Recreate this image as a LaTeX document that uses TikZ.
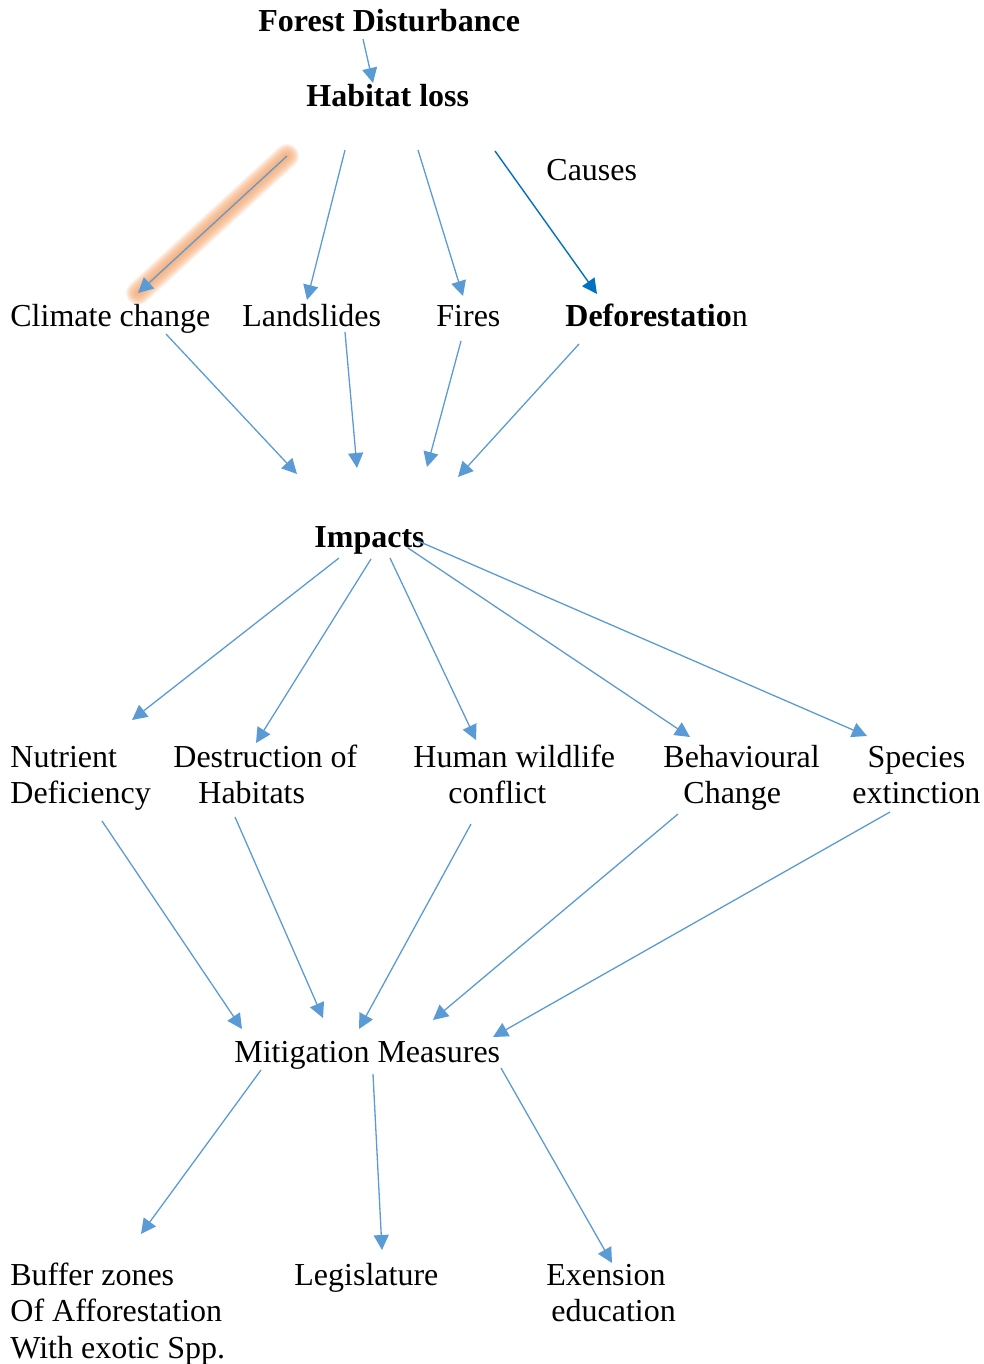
\documentclass[tikz,border=0pt]{standalone}
\usepackage{fontspec}
\setmainfont{Liberation Serif}
\usetikzlibrary{arrows.meta}

\definecolor{linkblue}{HTML}{5B9BD5}
\definecolor{causeblue}{HTML}{0070C0}
\definecolor{glowor}{HTML}{F4A66E}

\begin{document}
\begin{tikzpicture}[x=0.5pt,y=-0.5pt,>={Triangle[length=7.5pt,width=7.5pt]},
  every node/.style={inner sep=0pt,anchor=base west,font=\fontsize{16}{18.25}\selectfont},
  head/.style={font=\fontsize{16}{18.25}\selectfont\bfseries},
  link/.style={->,draw=linkblue,line width=0.65pt},
  darklink/.style={->,draw=causeblue,line width=0.7pt},
  glowline/.style={draw=glowor,line cap=round,opacity=.14}]
  \useasboundingbox (0,0) rectangle (984,1364);

  % Top
  \node[head] (fd) at (258,32) {Forest Disturbance};
  \node[head] (hl) at (306,107) {Habitat loss};
  \node (cs) at (546,181) {Causes};

  % Causes (multi-line nodes sit on their last baseline)
  \node (cc) at (10,326) {Climate change};
  \node (ls) at (242,326) {Landslides};
  \node (fi) at (436,326) {Fires};
  \node (df) at (565,326) {{\bfseries Deforestatio}n};

  % Impacts
  \node[head] (im) at (314,547) {Impacts};
  \node[align=left] (nd) at (10,803.5) {Nutrient\\Deficiency};
  \node[align=left] (dh) at (173,803.5) {Destruction of\\\hspace*{12.5pt}Habitats};
  \node[align=left] (hw) at (413,803.5) {Human wildlife\\\hspace*{17.5pt}conflict};
  \node[align=left] (bc) at (663,803.5) {Behavioural\\\hspace*{10pt}Change};
  \node[align=center] (se) at (852,803.5) {Species\\extinction};

  % Mitigation
  \node (mm) at (234,1062) {Mitigation Measures};
  \node[align=left] (bz) at (10,1358) {Buffer zones\\Of Afforestation\\With exotic Spp.};
  \node (lg) at (294,1285) {Legislature};
  \node[align=left] (ee) at (546,1321.5) {Exension\\\hspace*{2.5pt}education};

  % Glow behind the climate change arrow
  \coordinate (clstart) at ([shift={(-19,49)}]hl.base west);
  \coordinate (clend) at ([shift={(128,-33)}]cc.base west);
  \foreach \w in {1,...,12}
    \draw[glowline,line width=\w pt] (clstart) -- (clend);

  % Arrows
  \draw[link] ([shift={(105,7)}]fd.base west) -- ([shift={(67,-24)}]hl.base west);
  \draw[link] (clstart) -- (clend);
  \draw[link] ([shift={(39,43)}]hl.base west) -- ([shift={(65,-26)}]ls.base west);
  \draw[link] ([shift={(112,43)}]hl.base west) -- ([shift={(27,-30)}]fi.base west);
  \draw[darklink] ([shift={(189,44)}]hl.base west) -- ([shift={(32,-32)}]df.base west);

  \draw[link] ([shift={(156,8)}]cc.base west) -- ([shift={(-17,-73)}]im.base west);
  \draw[link] ([shift={(103,6)}]ls.base west) -- ([shift={(43,-79)}]im.base west);
  \draw[link] ([shift={(25,15)}]fi.base west) -- ([shift={(113,-80)}]im.base west);
  \draw[link] ([shift={(14,18)}]df.base west) -- ([shift={(144,-70)}]im.base west);

  \draw[link] ([shift={(25,11)}]im.base west) -- ([shift={(122,-83.5)}]nd.base west);
  \draw[link] ([shift={(57,12)}]im.base west) -- ([shift={(83,-60.5)}]dh.base west);
  \draw[link] ([shift={(76,11)}]im.base west) -- ([shift={(63,-63.5)}]hw.base west);
  \draw[link] ([shift={(94,1)}]im.base west) -- ([shift={(27,-66.5)}]bc.base west);
  \draw[link] ([shift={(104,-6)}]im.base west) -- ([shift={(15,-67.5)}]se.base west);

  \draw[link] ([shift={(92,17.5)}]nd.base west) -- ([shift={(8,-33)}]mm.base west);
  \draw[link] ([shift={(62,13.5)}]dh.base west) -- ([shift={(89,-44)}]mm.base west);
  \draw[link] ([shift={(58,20.5)}]hw.base west) -- ([shift={(125,-33)}]mm.base west);
  \draw[link] ([shift={(15,10.5)}]bc.base west) -- ([shift={(199,-42)}]mm.base west);
  \draw[link] ([shift={(38,8.5)}]se.base west) -- ([shift={(259,-25)}]mm.base west);

  \draw[link] ([shift={(27,8)}]mm.base west) -- ([shift={(131,-124)}]bz.base west);
  \draw[link] ([shift={(139,12)}]mm.base west) -- ([shift={(88,-35)}]lg.base west);
  \draw[link] ([shift={(267,6)}]mm.base west) -- ([shift={(66,-58.5)}]ee.base west);
\end{tikzpicture}
\end{document}
